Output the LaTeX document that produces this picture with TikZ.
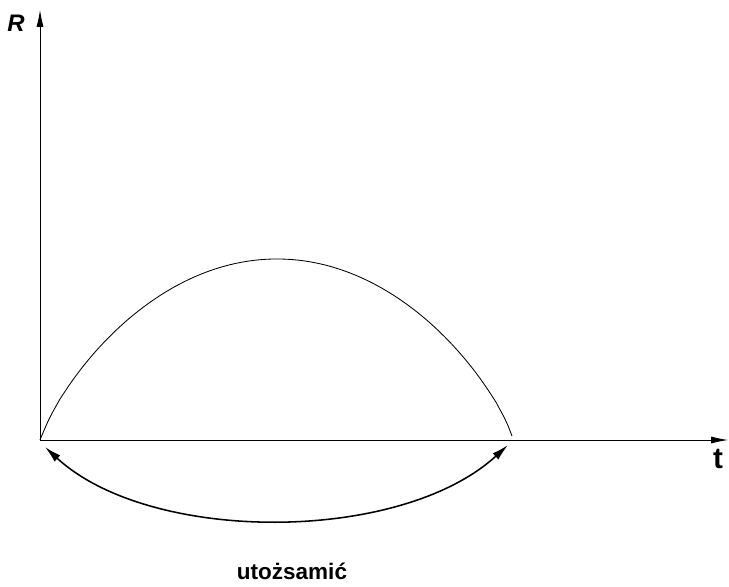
\documentclass[tikz,border=0pt]{standalone}
\usepackage{fontspec}
\setmainfont{Liberation Sans}
\usepackage{tikz}
\usetikzlibrary{arrows.meta, positioning}

\begin{document}
\begin{tikzpicture}[
  x=0.025cm, y=0.025cm,
  axis/.style={semithick, -{Latex[length=12pt, width=5pt]}},
  curve/.style={semithick},
  link/.style={line width=1.1pt, {Latex[length=12pt, width=6pt]}-{Latex[length=12pt, width=6pt]}},
  lbl/.style={inner sep=0pt}
]
  \useasboundingbox (0,0) rectangle (729,586);

  % Points
  \coordinate (O) at (40,146);
  \coordinate (E) at (512,146);
  \coordinate (ytop) at (40,576);
  \coordinate (xend) at (728,146);
  \coordinate (la) at (45,139);
  \coordinate (lb) at (508,141);

  % Axes
  \draw[axis] (O)--(ytop);
  \draw[axis] (O)--(xend);
  \node[lbl, font=\fontsize{17}{20}\selectfont\bfseries\itshape] (R) at (16,563) {R};
  \node[lbl, font=\fontsize{21}{24}\selectfont\bfseries] (t) at (718,127) {t};

  % Arc
  \draw[curve] plot[domain=40:512, samples=120]
    (\x, {146+181*(max(1-((\x-277)/236)^2,0.00001))^0.8});

  % Identification
  \draw[link] (la) .. controls (150,42) and (400,42) .. (lb);
  \node[lbl, font=\fontsize{16}{19}\selectfont\bfseries] (id) at (292,15) {utożsamić};
\end{tikzpicture}
\end{document}
